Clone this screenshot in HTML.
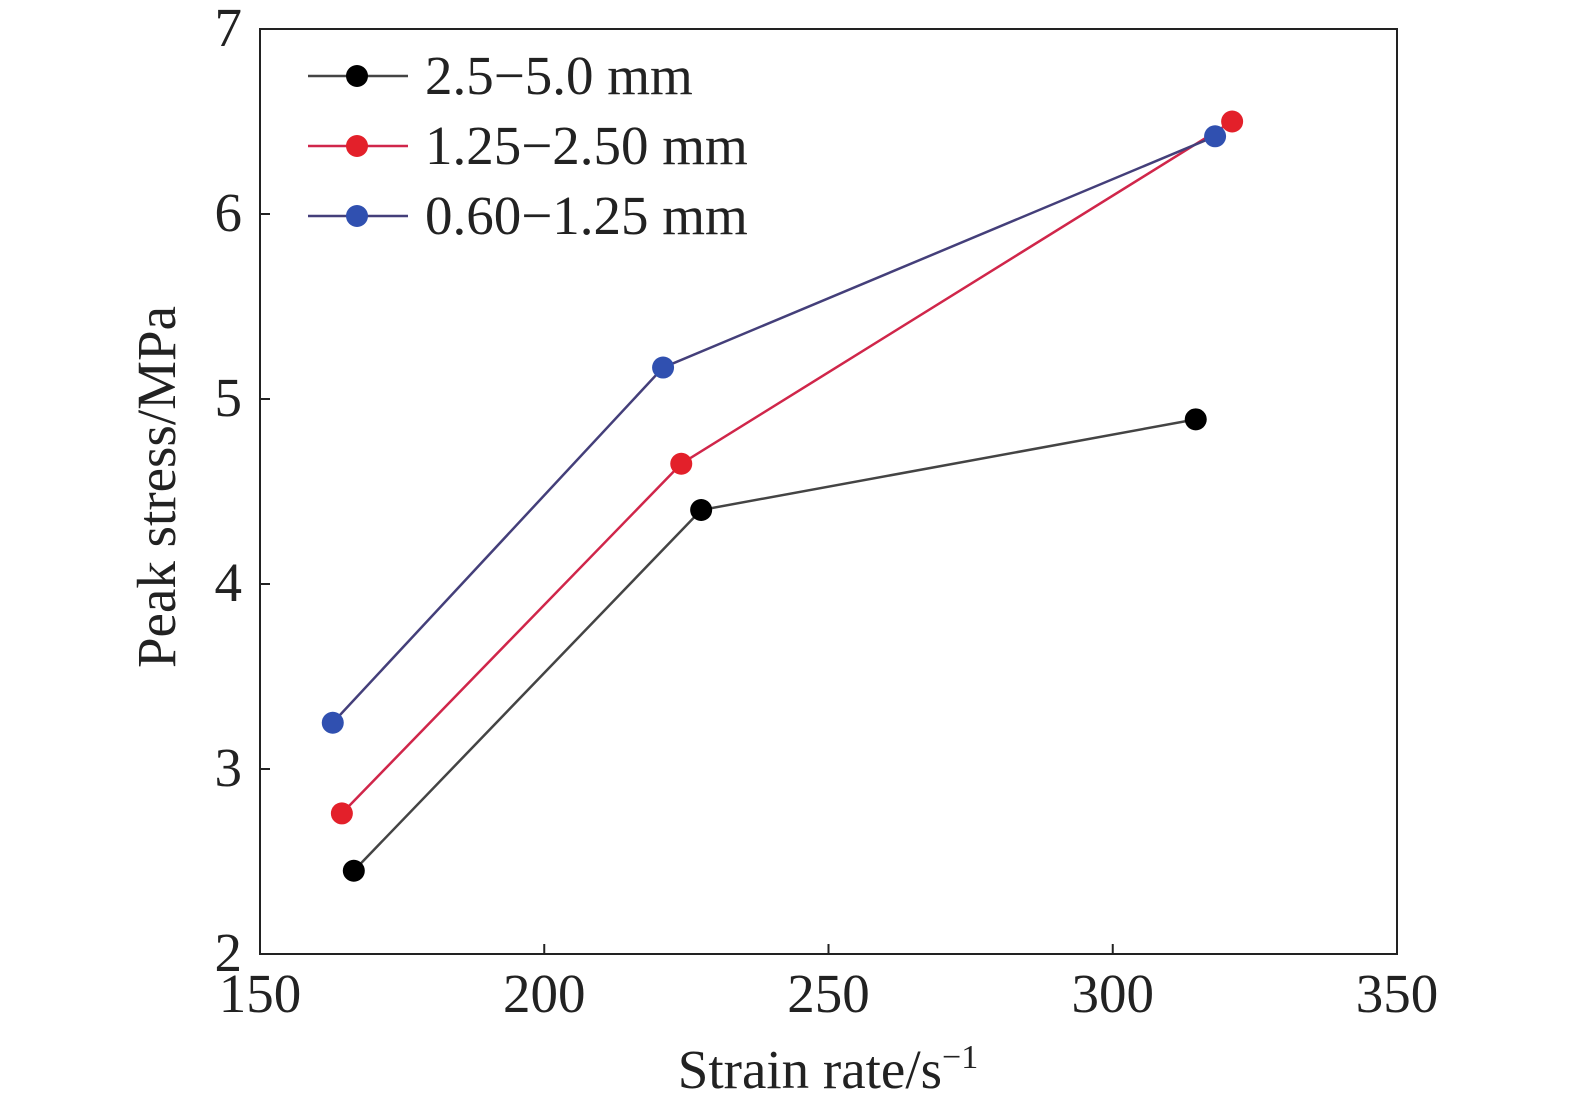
<!DOCTYPE html>
<html><head><meta charset="utf-8"><style>
body{margin:0;background:#fff}
svg text{font-family:"Liberation Serif",serif;fill:#222}
</style></head><body>
<svg width="1575" height="1111" xmlns="http://www.w3.org/2000/svg">
<g id="g"></g>
</svg>
<script>
const xTicks=[150,200,250,300,350];
const yTicks=[2,3,4,5,6,7];
const seriesNames=["2.5\u22125.0 mm","1.25\u22122.50 mm","0.60\u22121.25 mm"];
const xBlack=[166.5,227.6,314.6];
const yBlack=[2.45,4.40,4.89];
const xRed=[164.4,224.1,321];
const yRed=[2.76,4.65,6.50];
const xBlue=[162.8,220.9,318];
const yBlue=[3.25,5.17,6.42];

const L=260,R=1397,T=29,B=954;
const sx=v=>L+(v-150)/200*(R-L);
const sy=v=>B-(v-2)/5*(B-T);
const NS="http://www.w3.org/2000/svg";
const g=document.getElementById('g');
function mk(t,a){const e=document.createElementNS(NS,t);for(const k in a)e.setAttribute(k,a[k]);g.appendChild(e);return e;}
let e=mk('rect',{x:L,y:T,width:R-L,height:B-T,fill:'none',stroke:'#222','stroke-width':2});


xTicks.forEach(v=>{
 let t=mk('line',{x1:sx(v),x2:sx(v),y1:B,y2:B-10,stroke:'#222','stroke-width':2});
 
 
 let l=mk('text',{x:sx(v),y:1012,'font-size':55,'text-anchor':'middle'});l.textContent=v;
 
 
});
yTicks.forEach(v=>{
 let t=mk('line',{x1:L,x2:L+10,y1:sy(v),y2:sy(v),stroke:'#222','stroke-width':2});
 
 
 let l=mk('text',{x:242,y:sy(v)+17,'font-size':55,'text-anchor':'end'});l.textContent=v;
 
 
});
let xt=mk('text',{x:828,y:1088,'font-size':55,'text-anchor':'middle'});
xt.innerHTML='Strain rate/s<tspan dy="-20" font-size="34">\u22121</tspan>';


let yt=mk('text',{x:0,y:0,'font-size':55,'text-anchor':'middle',transform:'translate(175,487) rotate(-90)'});
yt.textContent='Peak stress/MPa';


const series=[[xBlack,yBlack,'#444','#000'],[xRed,yRed,'#d0264a','#e3202a'],[xBlue,yBlue,'#443f7a','#3050b0']];
series.forEach((s,i)=>{
 const pts=s[0].map((x,j)=>sx(x)+','+sy(s[1][j])).join(' ');
 let pl=mk('polyline',{points:pts,fill:'none',stroke:s[2],'stroke-width':2.5});
 
 
 s[0].forEach((x,j)=>{
  let c=mk('circle',{cx:sx(x),cy:sy(s[1][j]),r:11,fill:s[3]});
  
  
 });
 const ly=76+i*70;
 let ll=mk('line',{x1:308,x2:408,y1:ly,y2:ly,stroke:s[2],'stroke-width':2.5});
 
 
 let lc=mk('circle',{cx:357,cy:ly,r:11,fill:s[3]});
 
 
 let lt=mk('text',{x:425,y:ly+18,'font-size':55});lt.textContent=seriesNames[i];
 
 
});
</script>
</body></html>
